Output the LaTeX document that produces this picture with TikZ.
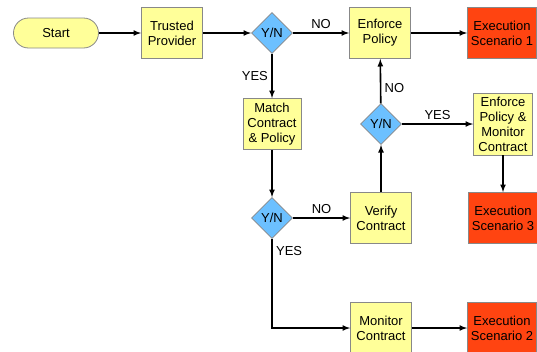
\documentclass[tikz,border=0pt]{standalone}
\usepackage{fontspec}
\setmainfont{Liberation Sans}
\usetikzlibrary{arrows,shapes.geometric}
\definecolor{procyellow}{HTML}{FFFF99}
\definecolor{decblue}{HTML}{6CC0FF}
\definecolor{execred}{HTML}{FF4411}
\definecolor{boxgray}{HTML}{888888}

\begin{document}
\begin{tikzpicture}[>=latex,line width=1.6pt,node distance=94pt,auto,
        font=\fontsize{13}{15}\selectfont]
        \tikzstyle{box}=[draw=boxgray,line width=0.8pt,align=center,inner sep=2pt]
        \tikzstyle{start}=[box,fill=procyellow,rounded corners=15pt,minimum width=85pt,minimum height=30pt]
        \tikzstyle{proc}=[box,fill=procyellow,minimum width=61pt,minimum height=51pt]
        \tikzstyle{exec}=[box,fill=execred,minimum width=69pt,minimum height=51pt]
        \tikzstyle{decide}=[box,diamond,fill=decblue,minimum size=41pt,inner sep=0pt]

        \useasboundingbox (0,0) rectangle (537pt,-351pt);

        \node[start]  (ST) at (56pt,-33pt)                        {Start};
        \node[proc]   (TP) [right of=ST,node distance=116pt]      {Trusted\\Provider};
        \node[decide] (D1) [right of=TP,node distance=100pt]      {Y/N};
        \node[proc]   (EP) [right of=D1,node distance=108pt]      {Enforce\\Policy};
        \node[exec]   (E1) [right of=EP,node distance=122pt]      {Execution\\Scenario 1};
        \node[proc,minimum width=58pt] (MC) [below of=D1,node distance=91pt] {Match\\Contract\\\& Policy};
        \node[decide] (D3) [below of=MC]                          {Y/N};
        \node[proc]   (VC) [right of=D3,node distance=109pt]      {Verify\\Contract};
        \node[decide] (D2) [above of=VC]                          {Y/N};
        \node[proc,minimum width=59pt,minimum height=62pt,inner sep=1pt]
                      (EM) [right of=D2,node distance=122pt]      {Enforce\\Policy \&\\Monitor\\Contract};
        \node[exec]   (E3) [below of=EM]                          {Execution\\Scenario 3};
        \node[proc]   (MO) [below of=VC,node distance=110pt]      {Monitor\\Contract};
        \node[exec]   (E2) [right of=MO,node distance=121pt]      {Execution\\Scenario 2};

        \path[->]
                  (ST) edge                           (TP)
                  (TP) edge                           (D1)
                  (D1) edge node          {NO}        (EP)
                       edge node [swap]   {YES}       (MC)
                  (EP) edge                           (E1)
                  (MC) edge                           (D3)
                  (D3) edge node          {NO}        (VC)
                  (VC) edge                           (D2)
                  (D2) edge node [swap,pos=0.35] {NO} (EP)
                       edge node          {YES}       (EM)
                  (EM) edge                           (E3)
                  (MO) edge                           (E2);
        \draw[->] (D3) |- node [pos=0.07,right] {YES} (MO);
      \end{tikzpicture}
\end{document}
